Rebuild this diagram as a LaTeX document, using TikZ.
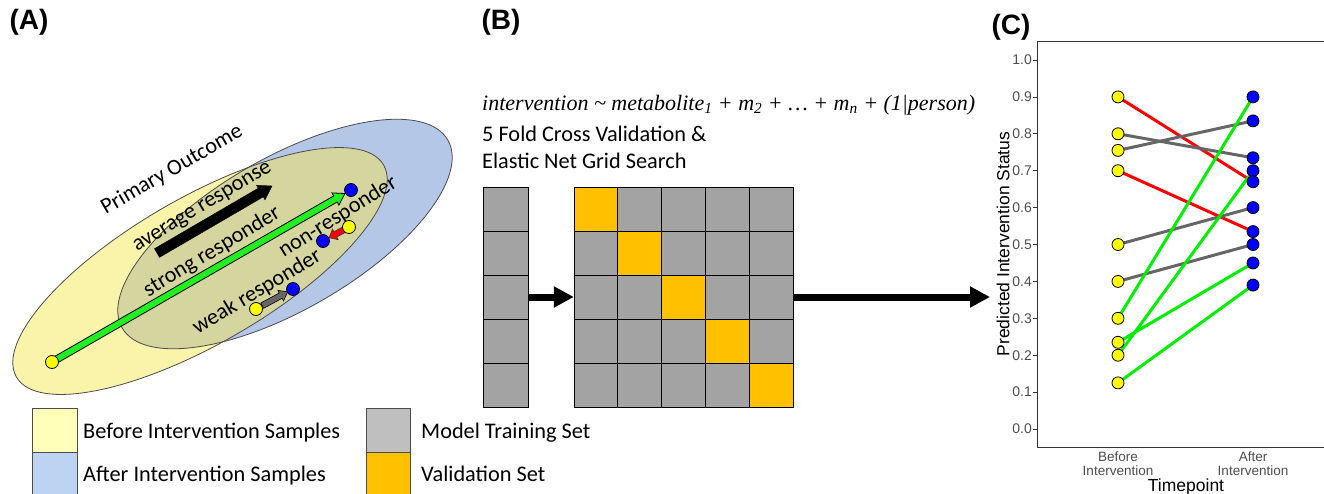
\documentclass[tikz,border=0pt]{standalone}
\usepackage{fontspec}
\setmainfont{Carlito}
\newfontfamily\arialf{Liberation Sans}
\newfontfamily\timesf{Liberation Serif}
\usetikzlibrary{arrows.meta}
\definecolor{ellY}{HTML}{FAF3AA}
\definecolor{ellB}{HTML}{B4C7E7}
\definecolor{ellO}{HTML}{D5D5A0}
\definecolor{legY}{HTML}{FFFFB9}
\definecolor{legB}{HTML}{BDD3F2}
\definecolor{legG}{HTML}{BFBFBF}
\definecolor{cellG}{HTML}{A3A3A3}
\definecolor{cellO}{HTML}{FFC000}
\definecolor{dotY}{HTML}{FFFF00}
\definecolor{dotB}{HTML}{0000FF}
\definecolor{lnG}{HTML}{00EE00}
\definecolor{lnR}{HTML}{FF0000}
\definecolor{lnK}{HTML}{666666}
\definecolor{axisC}{HTML}{333333}
\definecolor{tickC}{HTML}{4D4D4D}
\definecolor{arrG}{HTML}{22EE22}
\definecolor{arrK}{HTML}{666666}
\newdimen\badx \newdimen\bady
\makeatletter
\newcommand\blockarrow[8]{%
  \pgfmathanglebetweenpoints{\pgfpointanchor{#1}{center}}{\pgfpointanchor{#2}{center}}%
  \edef\ba@ang{\pgfmathresult}%
  \pgfpointdiff{\pgfpointanchor{#1}{center}}{\pgfpointanchor{#2}{center}}%
  \badx=\pgf@x \bady=\pgf@y
  \pgfmathsetmacro\ba@len{veclen(\badx,\bady)}%
  \pgfmathsetmacro\ba@end{\ba@len-#4}%
  \pgfmathsetmacro\ba@neck{\ba@end-#7}%
  \begin{scope}[shift={(#1.center)}, rotate=\ba@ang, x=1pt, y=1pt]
    \filldraw[#8] (#3,-#5) -- (\ba@neck,-#5) -- (\ba@neck,-#6) -- (\ba@end,0) -- (\ba@neck,#6) -- (\ba@neck,#5) -- (#3,#5) -- cycle;
  \end{scope}}
\makeatother
\begin{document}
\begin{tikzpicture}[x=1pt,y=-1pt,
  lbl/.style={font=\fontsize{22.3}{27}\selectfont, inner sep=0pt},
  panellbl/.style={font=\arialf\bfseries\fontsize{28}{32}\selectfont, inner sep=0pt},
  adotY/.style={circle, draw=black, line width=0.8pt, fill=dotY, minimum size=13pt, inner sep=0pt},
  adotB/.style={circle, draw=black, line width=0.8pt, fill=dotB, minimum size=13pt, inner sep=0pt},
  cdotY/.style={circle, draw=black, line width=0.8pt, fill=dotY, minimum size=12pt, inner sep=0pt},
  cdotB/.style={circle, draw=black, line width=0.8pt, fill=dotB, minimum size=12pt, inner sep=0pt},
  ellout/.style={draw=black!70, line width=0.8pt},
  legbox/.style={draw=black!70, line width=0.8pt},
  cellst/.style={draw=black, line width=0.9pt},
  bigarrow/.style={line width=7pt, -{Triangle[length=20pt,width=20pt]}},
  plotln/.style={line width=3pt},
  ticklbl/.style={font=\arialf\fontsize{14}{15}\selectfont, text=tickC, inner sep=0pt},
  axtitle/.style={font=\arialf\fontsize{17.5}{20}\selectfont, inner sep=0pt}
]
\useasboundingbox (0,0) rectangle (1324,493);

% ---------- panel labels
\node[panellbl] (labA) at (29,22) {(A)};
\node[panellbl] (labB) at (501,22) {(B)};
\node[panellbl] (labC) at (1011,27) {(C)};

% ---------- panel A ellipses
\fill[ellY, rotate around={30:(200,271)}] (200,271) ellipse (212 and 73);
\fill[ellB, rotate around={30:(285,234)}] (285,234) ellipse (188 and 76);
\begin{scope}
  \clip[rotate around={30:(200,271)}] (200,271) ellipse (212 and 73);
  \fill[ellO, rotate around={30:(285,234)}] (285,234) ellipse (188 and 76);
\end{scope}
\draw[ellout, rotate around={30:(200,271)}] (200,271) ellipse (212 and 73);
\draw[ellout, rotate around={30:(285,234)}] (285,234) ellipse (188 and 76);

% ---------- panel A texts
\node[lbl, rotate=30] (tPO) at (172,170) {Primary Outcome};
\node[lbl, rotate=31] (tAR) at (203,208) {average response};
\node[lbl, rotate=31] (tSR) at (212,252) {strong responder};
\node[lbl, rotate=32] (tNR) at (338,217) {non-responder};
\node[lbl, rotate=31] (tWR) at (257,292) {weak responder};

% ---------- panel A points & arrows
\coordinate (ys) at (52,362);
\coordinate (bs) at (351,190);
\coordinate (yn) at (349,227);
\coordinate (bn) at (323,241);
\coordinate (yw) at (256,309);
\coordinate (bw) at (293,289);
\coordinate (avgS) at (157,253);
\coordinate (avgE) at (272,186);
\blockarrow{avgS}{avgE}{0}{0}{5}{8.5}{13}{fill=black, draw=black}
\blockarrow{ys}{bs}{5}{7}{3.5}{7}{11}{fill=arrG, draw=black, line width=0.8pt}
\blockarrow{yn}{bn}{6}{7}{3}{6}{7}{fill=red, draw=black!80, line width=0.6pt}
\blockarrow{yw}{bw}{7}{6}{3}{6}{8}{fill=arrK, draw=black, line width=0.6pt}
\node[adotY] (dys) at (ys) {};
\node[adotB] (dbs) at (bs) {};
\node[adotY] (dyn) at (yn) {};
\node[adotB] (dbn) at (bn) {};
\node[adotY] (dyw) at (yw) {};
\node[adotB] (dbw) at (bw) {};

% ---------- legend
\filldraw[legbox, fill=legY] (32,408) rectangle (77,452);
\filldraw[legbox, fill=legB] (32,452) rectangle (77,497);
\filldraw[legbox, fill=legG] (366,408) rectangle (410,452);
\filldraw[legbox, fill=cellO] (366,452) rectangle (410,497);
\node[lbl, anchor=base west] (lg1) at (83,438) {Before Intervention Samples};
\node[lbl, anchor=base west] (lg2) at (83,481) {After Intervention Samples};
\node[lbl, anchor=base west] (lg3) at (421,438) {Model Training Set};
\node[lbl, anchor=base west] (lg4) at (421,481) {Validation Set};

% ---------- panel B texts
\node[inner sep=0pt, anchor=base west, font=\timesf\itshape\fontsize{22}{26}\selectfont] (form) at (482,110)
  {intervention \textasciitilde{} metabolite\textsubscript{1} + m\textsubscript{2} + \ldots{} + m\textsubscript{n} + (1|person)};
\node[lbl, anchor=base west] (cv1) at (482,141) {5 Fold Cross Validation \&};
\node[lbl, anchor=base west] (cv2) at (482,168) {Elastic Net Grid Search};

% ---------- panel B cells
\foreach \r in {0,...,4}{
  \filldraw[cellst, fill=cellG] (483,{187+44*\r}) rectangle ++(45,44);
}
\foreach \r in {0,...,4}{\foreach \c in {0,...,4}{
  \ifnum\r=\c\def\cc{cellO}\else\def\cc{cellG}\fi
  \filldraw[cellst, fill=\cc] ({574+43.8*\c},{187+44*\r}) rectangle ++(43.8,44);
}}
\node[minimum width=45pt, minimum height=220pt, inner sep=0pt] (col) at (505.5,297) {};
\node[minimum width=219pt, minimum height=220pt, inner sep=0pt] (grid) at (683.5,297) {};
\coordinate (cIn) at (990,297);
\draw[bigarrow] (col.east) -- (grid.west);
\draw[bigarrow] (grid.east) -- (cIn);

% ---------- panel C axes
\draw[axisC, line width=1pt] (1324,41) -- (1037,41) -- (1037,447) -- (1324,447);
\foreach \k in {0,...,10}{
  \draw[axisC, line width=0.8pt] (1033,{429-36.9*\k}) -- (1037,{429-36.9*\k});
  \node[ticklbl, anchor=east] (t\k) at (1032,{429-36.9*\k}) {\ifnum\k=10 1.0\else 0.\k\fi};
}
\node[axtitle, rotate=90] (ytit) at (1003,244) {Predicted Intervention Status};
\node[ticklbl, align=center, font=\arialf\fontsize{13.5}{13.5}\selectfont] (xb) at (1118,463.5) {Before\\Intervention};
\node[ticklbl, align=center, font=\arialf\fontsize{13.5}{13.5}\selectfont] (xa) at (1253,463.5) {After\\Intervention};
\node[axtitle, anchor=base] (xtit) at (1186,491) {Timepoint};

% ---------- panel C data
\foreach \i/\v in {1/0.9,2/0.8,3/0.755,4/0.7,5/0.5,6/0.4,7/0.3,8/0.235,9/0.2,10/0.125}{
  \coordinate (b\i) at (1118,{429-369*\v});
}
\foreach \i/\v in {1/0.9,2/0.835,3/0.735,4/0.7,5/0.67,6/0.6,7/0.535,8/0.5,9/0.45,10/0.39}{
  \coordinate (a\i) at (1253,{429-369*\v});
}
\draw[plotln, lnR] (b1) -- (a5);
\draw[plotln, lnR] (b4) -- (a7);
\draw[plotln, lnK] (b2) -- (a3);
\draw[plotln, lnK] (b3) -- (a2);
\draw[plotln, lnK] (b5) -- (a6);
\draw[plotln, lnK] (b6) -- (a8);
\draw[plotln, lnG] (b7) -- (a1);
\draw[plotln, lnG] (b9) -- (a4);
\draw[plotln, lnG] (b8) -- (a9);
\draw[plotln, lnG] (b10) -- (a10);
\foreach \i in {1,...,10}{
  \node[cdotY] (bd\i) at (b\i) {};
  \node[cdotB] (ad\i) at (a\i) {};
}
\end{tikzpicture}
\end{document}
